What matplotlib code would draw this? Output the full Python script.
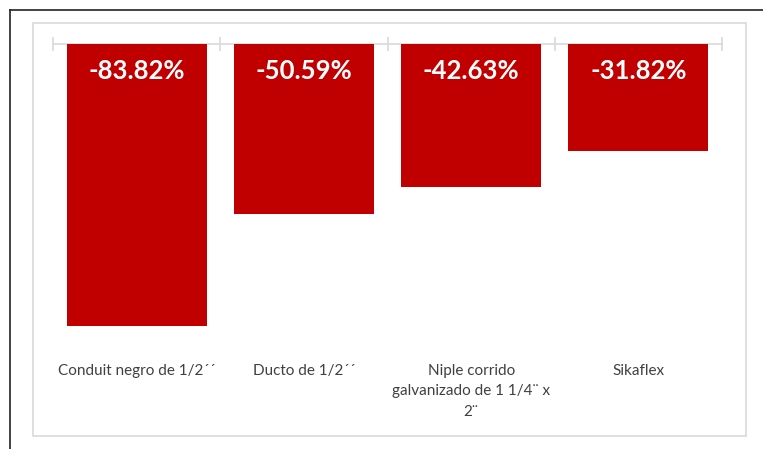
import matplotlib.pyplot as plt
from matplotlib.patches import Rectangle
from matplotlib.lines import Line2D

# ------------------------------------------------------------------
# Datos
# ------------------------------------------------------------------
categorias = [
    "Conduit negro de 1/2´´",
    "Ducto de 1/2´´",
    "Niple corrido\ngalvanizado de 1 1/4¨ x\n2¨",
    "Sikaflex",
]
variacion = [-83.82, -50.59, -42.63, -31.82]
etiquetas = [f"{v:.2f}%" for v in variacion]

ROJO = "#C00000"
GRIS = "#D9D9D9"
TEXTO = "#404040"

plt.rcParams["font.family"] = ["Lato", "DejaVu Sans"]

fig = plt.figure(figsize=(7.63, 4.49), dpi=100)
W, H = 763, 449

# marco exterior (negro) y área del gráfico (gris)
fig.add_artist(Line2D([10 / W, 10 / W], [0, 1 - 10 / H], color="#222222", lw=1.2,
                      transform=fig.transFigure))
fig.add_artist(Line2D([10 / W, 1], [1 - 10 / H, 1 - 10 / H], color="#222222", lw=1.2,
                      transform=fig.transFigure))
fig.add_artist(Rectangle((33 / W, 1 - 436 / H), (746 - 33) / W, (436 - 23) / H,
                         transform=fig.transFigure, fill=False, edgecolor=GRIS, lw=1.2))

ax = fig.add_axes([53 / W, 1 - 347 / H, (722 - 53) / W, (347 - 43.5) / H])
x = list(range(len(categorias)))
bars = ax.bar(x, variacion, width=0.836, color=ROJO, zorder=2)

for b, txt in zip(bars, etiquetas):
    ax.annotate(txt, xy=(b.get_x() + b.get_width() / 2, 0), xytext=(0, -19.5),
                textcoords="offset points", ha="center", va="center",
                color="white", fontsize=18.5, fontweight="bold", zorder=3)

ax.set_xlim(-0.5, len(categorias) - 0.5)
ax.set_ylim(-90, 0)

for s in ["left", "right", "bottom"]:
    ax.spines[s].set_visible(False)
ax.spines["top"].set_color(GRIS)
ax.spines["top"].set_linewidth(1.2)
ax.spines["top"].set_zorder(1)

ax.set_yticks([])
ax.set_xticks(x)
ax.set_xticklabels(categorias, fontsize=11, color=TEXTO, linespacing=1.62)
ax.tick_params(axis="x", which="major", length=0, pad=12)
ax.set_xticks([i - 0.5 for i in range(len(categorias) + 1)], minor=True)
ax.tick_params(axis="x", which="minor", top=True, bottom=False, direction="inout",
               length=10, width=1.2, color=GRIS)

fig.savefig("out.png", dpi=100)
